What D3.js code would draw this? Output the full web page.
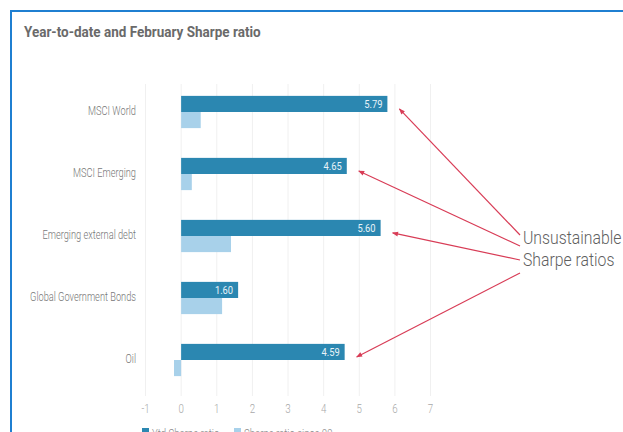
<!DOCTYPE html>
<html>
<head>
<meta charset="utf-8">
<script src="https://cdn.jsdelivr.net/npm/d3@7"></script>
<style>
  body { margin: 0; background: #fff; }
  svg text { font-family: Roboto, "Liberation Sans", sans-serif; }
</style>
</head>
<body>
<svg id="chart" width="623" height="432"></svg>
<script>
var categories = ["MSCI World", "MSCI Emerging", "Emerging external debt", "Global Government Bonds", "Oil"];
var ytdSharpe = [5.79, 4.65, 5.60, 1.60, 4.59];
var sharpeSince09 = [0.55, 0.3, 1.4, 1.15, -0.2];
var xTicks = [-1, 0, 1, 2, 3, 4, 5, 6, 7];
var seriesNames = ["Ytd Sharpe ratio", "Sharpe ratio since 09"];
// bars the callout points at
var flagged = ["MSCI World", "MSCI Emerging", "Emerging external debt", "Oil"];

var svg = d3.select("#chart"),
    width = +svg.attr("width"),
    height = +svg.attr("height");

var darkBlue = "#2b87b1",
    lightBlue = "#a8d1ea",
    arrowRed = "#d83c56";

// no condensed font installed, so squeeze the glyphs instead
function condense(sel, k) {
  sel.each(function() {
    var w = this.getComputedTextLength();
    d3.select(this)
      .attr("textLength", w * k)
      .attr("lengthAdjust", "spacingAndGlyphs");
  });
}

// frame
svg.append("path")
    .attr("d", "M11,433 L11,11 L624,11")
    .attr("fill", "none")
    .attr("stroke", "#1f7fd1")
    .attr("stroke-width", 2);

svg.append("text")
    .attr("x", 24)
    .attr("y", 37)
    .attr("fill", "#6a6a6a")
    .attr("font-size", 14.5)
    .attr("font-weight", "bold")
    .text("Year-to-date and February Sharpe ratio")
    .call(condense, 0.93);

var x = d3.scaleLinear()
    .domain([-1, 7])
    .range([145.5, 430.5]);

var y = d3.scaleBand()
    .domain(categories)
    .range([81, 391])
    .paddingInner(0.48)
    .paddingOuter(0.24);

var bh = y.bandwidth() / 2;

// gridlines
svg.append("g")
  .selectAll("line")
  .data(xTicks)
  .enter().append("line")
    .attr("x1", function(d) { return x(d); })
    .attr("x2", function(d) { return x(d); })
    .attr("y1", 84)
    .attr("y2", 396)
    .attr("stroke", "#f0f0f0")
    .attr("stroke-width", 1);

// tick labels
svg.append("g")
  .selectAll("text")
  .data(xTicks)
  .enter().append("text")
    .attr("x", function(d) { return x(d); })
    .attr("y", 413)
    .attr("text-anchor", "middle")
    .attr("fill", "#a8a8a8")
    .attr("font-size", 13.5)
    .attr("font-weight", 300)
    .text(function(d) { return d; })
    .call(condense, 0.72);

var rows = categories.map(function(c, i) {
  return {name: c, ytd: ytdSharpe[i], since: sharpeSince09[i]};
});

var row = svg.append("g")
  .selectAll("g")
  .data(rows)
  .enter().append("g")
    .attr("transform", function(d) { return "translate(0," + y(d.name) + ")"; });

row.append("rect")
    .attr("x", function(d) { return x(Math.min(0, d.ytd)); })
    .attr("y", 0)
    .attr("width", function(d) { return Math.abs(x(d.ytd) - x(0)); })
    .attr("height", bh)
    .attr("fill", darkBlue);

row.append("rect")
    .attr("x", function(d) { return x(Math.min(0, d.since)); })
    .attr("y", bh)
    .attr("width", function(d) { return Math.abs(x(d.since) - x(0)); })
    .attr("height", bh)
    .attr("fill", lightBlue);

row.append("text")
    .attr("x", function(d) { return x(d.ytd) - 5; })
    .attr("y", bh / 2)
    .attr("dy", "0.35em")
    .attr("text-anchor", "end")
    .attr("fill", "#e8f3f8")
    .attr("font-size", 11)
    .text(function(d) { return d.ytd.toFixed(2); })
    .call(condense, 0.85);

row.append("text")
    .attr("x", 136)
    .attr("y", bh - 1)
    .attr("dy", "0.35em")
    .attr("text-anchor", "end")
    .attr("fill", "#777")
    .attr("font-size", 12.5)
    .attr("font-weight", 300)
    .text(function(d) { return d.name; })
    .call(condense, 0.74);

// callout arrows
svg.append("defs").append("marker")
    .attr("id", "head")
    .attr("viewBox", "0 0 10 10")
    .attr("refX", 9)
    .attr("refY", 5)
    .attr("markerWidth", 6)
    .attr("markerHeight", 5)
    .attr("orient", "auto")
  .append("path")
    .attr("d", "M0,1 L10,5 L0,9 Z")
    .attr("fill", arrowRed);

var starts = [235, 246, 260, 273];
svg.append("g")
  .selectAll("line")
  .data(flagged)
  .enter().append("line")
    .attr("x1", 520)
    .attr("y1", function(d, i) { return starts[i]; })
    .attr("x2", function(d) { return x(rows[categories.indexOf(d)].ytd) + 12; })
    .attr("y2", function(d) { return y(d) + bh / 2 + 5; })
    .attr("stroke", arrowRed)
    .attr("stroke-width", 1.2)
    .attr("marker-end", "url(#head)");

var callout = svg.append("g")
  .selectAll("text")
  .data(["Unsustainable", "Sharpe ratios"])
  .enter().append("text")
    .attr("x", 523)
    .attr("y", function(d, i) { return 244 + i * 22; })
    .attr("fill", "#5f5f5f")
    .attr("font-size", 19)
    .attr("font-weight", 300)
    .text(function(d) { return d; })
    .call(condense, 0.83);

// legend (cut off at the bottom)
var legend = svg.append("g")
  .selectAll("g")
  .data(seriesNames)
  .enter().append("g")
    .attr("transform", function(d, i) { return "translate(" + (i ? 234 : 142) + ",0)"; });

legend.append("rect")
    .attr("y", 428)
    .attr("width", 7)
    .attr("height", 7)
    .attr("fill", function(d, i) { return i ? lightBlue : darkBlue; });

legend.append("text")
    .attr("x", 10)
    .attr("y", 438)
    .attr("fill", "#8a8a8a")
    .attr("font-size", 13)
    .attr("font-weight", 300)
    .text(function(d) { return d; })
    .call(condense, 0.74);
</script>
</body>
</html>
